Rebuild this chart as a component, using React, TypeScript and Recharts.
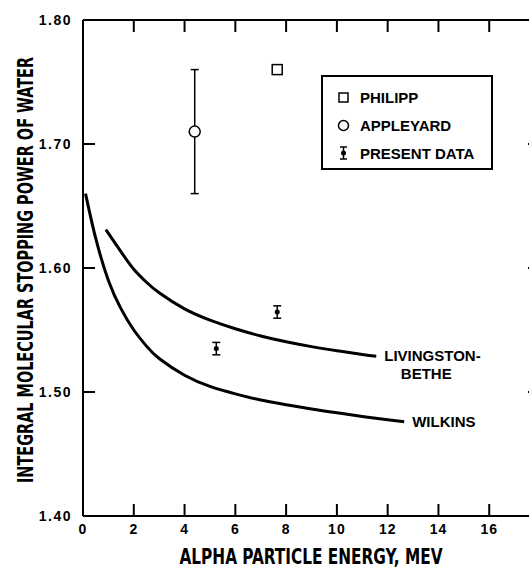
import { ComposedChart, Line, Scatter, ErrorBar, XAxis, YAxis, Legend } from "recharts";

// axis ticks
const xTicks = [0, 2, 4, 6, 8, 10, 12, 14, 16];
const topTicks = [2, 4, 6, 8, 10, 12, 14, 16];
const yTicks = [1.4, 1.5, 1.6, 1.7, 1.8];
const rightTicks = [1.5, 1.6, 1.7];

// Wilkins curve
const wilkinsEnergy = [0.1, 0.5, 1, 1.5, 2, 2.5, 3, 4, 5, 6, 7, 8, 9, 10, 11, 12, 12.65];
const wilkinsPower = [1.66, 1.624, 1.59, 1.567, 1.55, 1.537, 1.527, 1.5135, 1.5045, 1.4985, 1.4935, 1.4898, 1.4863, 1.4832, 1.4803, 1.4776, 1.476];

// Livingston-Bethe curve
const lbEnergy = [0.9, 1.5, 2, 2.5, 3, 4, 5, 6, 7, 8, 9, 10, 11, 11.55];
const lbPower = [1.631, 1.613, 1.599, 1.5885, 1.58, 1.567, 1.558, 1.551, 1.5452, 1.5405, 1.5366, 1.5333, 1.5303, 1.5288];

// measurements
const philippEnergy = [7.65];
const philippPower = [1.76];
const appleyardEnergy = [4.4];
const appleyardPower = [1.71];
const appleyardErr = [0.05];
const presentEnergy = [5.25, 7.65];
const presentPower = [1.535, 1.5645];
const presentErr = [0.005, 0.005];

const legendNames = ["PHILIPP", "APPLEYARD", "PRESENT DATA"];

const wilkins = wilkinsEnergy.map((x, i) => ({ x, y: wilkinsPower[i] }));
const livingston = lbEnergy.map((x, i) => ({ x, y: lbPower[i] }));
const philipp = philippEnergy.map((x, i) => ({ x, y: philippPower[i] }));
const appleyard = appleyardEnergy.map((x, i) => ({ x, y: appleyardPower[i], e: appleyardErr[i] }));
const present = presentEnergy.map((x, i) => ({ x, y: presentPower[i], e: presentErr[i] }));

const FONT = "'Liberation Sans', Arial, sans-serif";
const TITLE_FONT = "'DejaVu Sans Condensed', 'Liberation Sans Narrow', sans-serif";
const axisLine = { stroke: "#000", strokeWidth: 2 };

const BottomTick = (p: any) => (
  <g>
    <line x1={p.x} x2={p.x} y1={p.y - 8} y2={p.y - 20} stroke="#000" strokeWidth={2} />
    <text x={p.x} y={p.y} dy={10} textAnchor="middle" fontFamily={FONT} fontWeight="bold" fontSize={14} letterSpacing={1} fill="#000">
      {p.payload.value}
    </text>
  </g>
);

const LeftTick = (p: any) => (
  <g>
    <line x1={p.x + 11} x2={p.x + 23} y1={p.y} y2={p.y} stroke="#000" strokeWidth={2} />
    <text x={p.x} y={p.y} dy={5} textAnchor="end" fontFamily={FONT} fontWeight="bold" fontSize={14} letterSpacing={1.5} fill="#000">
      {p.payload.value.toFixed(2)}
    </text>
  </g>
);

const TopTick = (p: any) => <line x1={p.x} x2={p.x} y1={p.y} y2={p.y + 12} stroke="#000" strokeWidth={2} />;
const RightTick = (p: any) => <line x1={p.x - 12} x2={p.x} y1={p.y} y2={p.y} stroke="#000" strokeWidth={2} />;

const XTitle = () => (
  <text x={311} y={564} textAnchor="middle" fontFamily={TITLE_FONT} fontWeight="bold" fontSize={21} textLength={263} lengthAdjust="spacingAndGlyphs" fill="#000">
    ALPHA PARTICLE ENERGY, MEV
  </text>
);

const YTitle = () => (
  <text x={33} y={270} transform="rotate(-90, 33, 270)" textAnchor="middle" fontFamily={TITLE_FONT} fontWeight="bold" fontSize={21} textLength={426} lengthAdjust="spacingAndGlyphs" fill="#000">
    INTEGRAL MOLECULAR STOPPING POWER OF WATER
  </text>
);

const labelStyle = { fontFamily: FONT, fontWeight: "bold" as const, fontSize: 15, fill: "#000" };

const wilkinsLabel = (p: any) =>
  p.index === wilkins.length - 1 ? (
    <text x={p.x + 8} y={p.y + 5} {...labelStyle}>WILKINS</text>
  ) : null;

const lbLabel = (p: any) =>
  p.index === livingston.length - 1 ? (
    <g>
      <text x={p.x + 8} y={p.y + 5} {...labelStyle}>LIVINGSTON-</text>
      <text x={p.x + 50} y={p.y + 23} textAnchor="middle" {...labelStyle}>BETHE</text>
    </g>
  ) : null;

const Square = (p: any) => <rect x={p.cx - 5} y={p.cy - 5} width={10} height={10} fill="#fff" stroke="#000" strokeWidth={1.5} />;
const Ring = (p: any) => <circle cx={p.cx} cy={p.cy} r={5.5} fill="#fff" stroke="#000" strokeWidth={1.5} />;
const Dot = (p: any) => <circle cx={p.cx} cy={p.cy} r={2.5} fill="#000" />;

const LegendBox = () => (
  <svg width={172} height={95} style={{ display: "block" }}>
    <rect x={1} y={1} width={170} height={93} fill="#fff" stroke="#000" strokeWidth={2} />
    <rect x={18} y={18} width={9} height={9} fill="none" stroke="#000" strokeWidth={1.5} />
    <circle cx={22.5} cy={50.5} r={5} fill="none" stroke="#000" strokeWidth={1.5} />
    <line x1={22.5} x2={22.5} y1={72} y2={84} stroke="#000" strokeWidth={1.5} />
    <line x1={19} x2={26} y1={72} y2={72} stroke="#000" strokeWidth={1.5} />
    <line x1={19} x2={26} y1={84} y2={84} stroke="#000" strokeWidth={1.5} />
    <circle cx={22.5} cy={78} r={2.5} fill="#000" />
    {legendNames.map((n, i) => (
      <text key={n} x={39} y={28 + i * 28} {...labelStyle}>
        {n}
      </text>
    ))}
  </svg>
);

export default function App() {
  return (
    <div style={{ position: "absolute", left: 0, top: 0, width: 529, height: 569, overflow: "hidden", background: "#fff" }}>
      <ComposedChart width={545} height={569} margin={{ top: 0, right: 0, bottom: 0, left: 0 }}>
        <XAxis
          dataKey="x"
          type="number"
          domain={[0, 18]}
          allowDataOverflow
          ticks={xTicks}
          interval={0}
          height={53}
          tickSize={0}
          tickMargin={8}
          tickLine={false}
          axisLine={axisLine}
          tick={BottomTick}
          label={XTitle}
        />
        <XAxis
          xAxisId="top"
          orientation="top"
          dataKey="x"
          type="number"
          domain={[0, 18]}
          allowDataOverflow
          ticks={topTicks}
          interval={0}
          height={20}
          tickSize={0}
          tickMargin={0}
          tickLine={false}
          axisLine={axisLine}
          tick={TopTick}
        />
        <YAxis
          type="number"
          domain={[1.4, 1.8]}
          allowDataOverflow
          ticks={yTicks}
          interval={0}
          width={83}
          tickSize={0}
          tickMargin={11}
          tickLine={false}
          axisLine={axisLine}
          tick={LeftTick}
          label={YTitle}
        />
        <YAxis
          yAxisId="right"
          orientation="right"
          type="number"
          domain={[1.4, 1.8]}
          allowDataOverflow
          ticks={rightTicks}
          interval={0}
          width={5}
          tickSize={0}
          tickMargin={0}
          tickLine={false}
          axisLine={axisLine}
          tick={RightTick}
        />
        <Legend layout="vertical" align="center" verticalAlign="middle" content={LegendBox} wrapperStyle={{ left: 321, top: 75, width: 172, height: 95 }} />
        <Line data={wilkins} dataKey="y" type="natural" stroke="#000" strokeWidth={3} dot={false} isAnimationActive={false} label={wilkinsLabel} />
        <Line data={livingston} dataKey="y" type="natural" stroke="#000" strokeWidth={3} dot={false} isAnimationActive={false} label={lbLabel} />
        <Scatter data={philipp} dataKey="y" shape={Square} isAnimationActive={false} />
        <Scatter data={appleyard} dataKey="y" shape={Ring} isAnimationActive={false}>
          <ErrorBar dataKey="e" direction="y" width={4} stroke="#000" strokeWidth={1.5} />
        </Scatter>
        <Scatter data={present} dataKey="y" shape={Dot} isAnimationActive={false}>
          <ErrorBar dataKey="e" direction="y" width={4} stroke="#000" strokeWidth={1.5} />
        </Scatter>
      </ComposedChart>
    </div>
  );
}
